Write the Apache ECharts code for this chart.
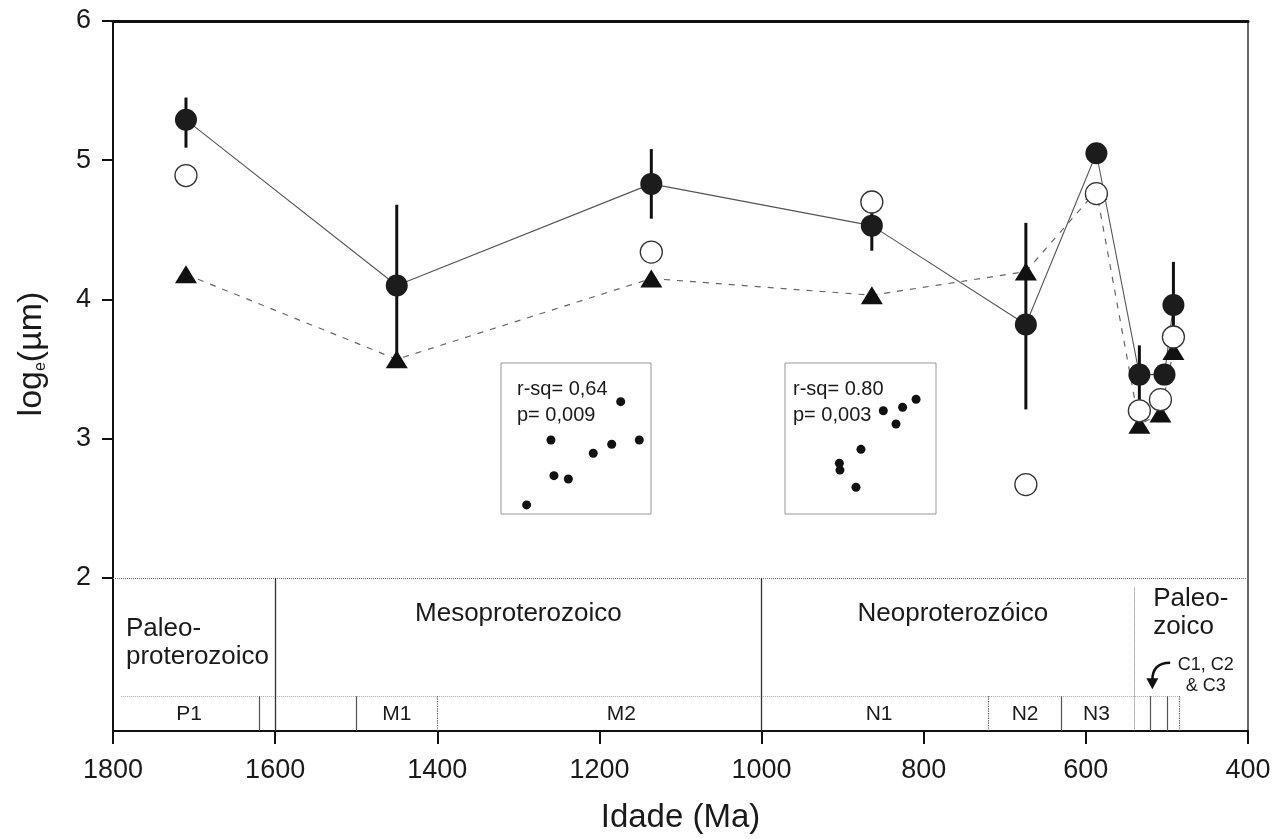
<!DOCTYPE html>
<html>
<head>
<meta charset="utf-8">
<script src="https://cdn.jsdelivr.net/npm/echarts@6/dist/echarts.min.js"></script>
<style>
  html, body { margin: 0; background: #fff; }
  #main { width: 1277px; height: 839px; }
</style>
</head>
<body>
<div id="main"></div>
<script>
// médias (círculos cheios) com barras de erro
var ages = [1710, 1450, 1136, 864, 674, 587, 534, 503, 492];
var meanVals = [5.29, 4.10, 4.83, 4.53, 3.82, 5.05, 3.46, 3.46, 3.96];
var errLow = [5.09, 3.52, 4.58, 4.35, 3.21, null, 3.25, null, 3.65];
var errHigh = [5.45, 4.68, 5.08, 4.71, 4.55, null, 3.67, null, 4.27];
// círculos abertos
var openAges = [1710, 1136, 864, 674, 587, 534, 508, 492];
var openVals = [4.89, 4.34, 4.70, 2.67, 4.76, 3.20, 3.28, 3.73];
// triângulos (linha tracejada)
var triAges = [1710, 1450, 1136, 864, 674, 587, 534, 508, 492];
var triVals = [4.18, 3.57, 4.15, 4.03, 4.20, 4.78, 3.10, 3.18, 3.63];
// eixo y
var yTicks = [2, 3, 4, 5, 6];
// escala do tempo geológico
var eraBounds = [1600, 1000];
var paleozoicBound = 540;
var subBounds = [1620, 1500, 1400, 720, 630, 520, 500, 485];
var eraNames = ['Paleo-\nproterozoico', 'Mesoproterozoico', 'Neoproterozóico', 'Paleo-\nzoico'];
var eraLabelAges = [1784, 1300, 764, 517];
var subNames = ['P1', 'M1', 'M2', 'N1', 'N2', 'N3'];
var subLabelAges = [1706, 1450, 1173, 855, 675, 587];
// gráficos inseridos
var insetA_x = [79.8, 33.3, 92.2, 73.8, 61.5, 35.3, 44.9, 17.1];
var insetA_y = [74.4, 49.0, 49.0, 46.2, 40.2, 25.4, 23.2, 6.0];
var insetB_x = [65.1, 77.9, 86.8, 73.5, 50.3, 36.0, 36.4, 47.0];
var insetB_y = [68.4, 70.7, 76.0, 59.6, 42.8, 33.6, 29.1, 17.7];
var insetA_text = 'r-sq= 0,64\np= 0,009';
var insetB_text = 'r-sq= 0.80\np= 0,003';

var FONT = '"Liberation Sans", Arial, sans-serif';
var INK = '#1a1a1a';
var yMin = 0.9, subTop = 1.15;

function pairs(xs, ys) {
  var out = [];
  for (var i = 0; i < xs.length; i++) out.push([xs[i], ys[i]]);
  return out;
}

var errData = [];
for (var i = 0; i < ages.length; i++) {
  if (errLow[i] != null) errData.push([ages[i], errLow[i], errHigh[i]]);
}

// linhas da escala de tempo
var subStyle = ['solid', 'solid', 'dotted', 'dotted', 'solid', 'solid', 'solid', 'dotted'];
var scaleLines = [
  [{ coord: [1800, 2], lineStyle: { type: 'dotted', color: '#777', width: 1 } }, { coord: [400, 2] }],
  [{ coord: [1790, subTop], lineStyle: { type: 'dotted', color: '#aaa', width: 1 } }, { coord: [485, subTop] }],
  [{ coord: [paleozoicBound, 1.93], lineStyle: { type: 'dotted', color: '#777', width: 1 } }, { coord: [paleozoicBound, yMin] }]
];
eraBounds.forEach(function (a) {
  scaleLines.push([{ coord: [a, 2], lineStyle: { type: 'solid', color: '#333', width: 1.3 } }, { coord: [a, yMin] }]);
});
subBounds.forEach(function (a, k) {
  scaleLines.push([{ coord: [a, subTop], lineStyle: { type: subStyle[k], color: '#555', width: 1.2 } }, { coord: [a, yMin] }]);
});

var labelData = [];
eraNames.forEach(function (n, k) {
  var left = n.indexOf('\n') >= 0;
  labelData.push({
    value: [eraLabelAges[k], left ? (k === 0 ? 1.53 : 1.75) : 1.74],
    name: n,
    label: { position: left ? 'right' : 'inside', distance: 0, fontSize: 26, lineHeight: 28 }
  });
});
subNames.forEach(function (n, k) {
  labelData.push({ value: [subLabelAges[k], 1.02], name: n, label: { position: 'inside', fontSize: 21 } });
});
labelData.push({ value: [452, 1.30], name: 'C1, C2\n& C3', label: { position: 'inside', fontSize: 18, lineHeight: 21 } });

var hiddenAxis = function (grid) {
  return { type: 'value', gridIndex: grid, min: 0, max: 100, show: false };
};

var myChart = echarts.init(document.getElementById('main'));
myChart.setOption({
  animation: false,
  textStyle: { fontFamily: FONT },
  title: [
    { text: insetA_text, left: 512, top: 371, textStyle: { fontFamily: FONT, fontSize: 20, fontWeight: 'normal', color: INK, lineHeight: 26 } },
    { text: insetB_text, left: 788, top: 371, textStyle: { fontFamily: FONT, fontSize: 20, fontWeight: 'normal', color: INK, lineHeight: 26 } }
  ],
  grid: [
    { left: 113, right: 29, top: 21, bottom: 106 },
    { left: 501, top: 363, width: 150, height: 151, show: true, borderColor: '#999', borderWidth: 1 },
    { left: 785, top: 363, width: 151, height: 151, show: true, borderColor: '#999', borderWidth: 1 }
  ],
  xAxis: [
    {
      type: 'value', gridIndex: 0, min: 400, max: 1800, interval: 200, inverse: true,
      name: 'Idade (Ma)', nameLocation: 'middle', nameGap: 70,
      nameTextStyle: { fontSize: 33, color: INK, fontFamily: FONT },
      axisLine: { lineStyle: { color: '#111', width: 2 } },
      axisTick: { length: 13, lineStyle: { color: '#111', width: 2 } },
      axisLabel: { fontSize: 27, color: INK, margin: 26, fontFamily: FONT, formatter: function (v) { return String(v); } },
      splitLine: { show: false }
    },
    {
      type: 'value', gridIndex: 0, min: 400, max: 1800, inverse: true, position: 'top',
      axisLine: { show: true, lineStyle: { color: '#111', width: 3 } },
      axisTick: { show: false }, axisLabel: { show: false }, splitLine: { show: false }
    },
    hiddenAxis(1),
    hiddenAxis(2)
  ],
  yAxis: [
    {
      type: 'value', gridIndex: 0, min: yMin, max: 6,
      name: 'log{e|e}(µm)', nameLocation: 'middle', nameGap: 64,
      nameTextStyle: {
        fontSize: 34, color: INK, fontFamily: FONT, padding: [0, 0, 0, 44],
        rich: { e: { fontSize: 16, verticalAlign: 'bottom', color: INK, fontFamily: FONT } }
      },
      axisLine: { lineStyle: { color: '#111', width: 2 } },
      axisTick: { length: 11, customValues: yTicks, lineStyle: { color: '#111', width: 2 } },
      axisLabel: { fontSize: 27, color: INK, margin: 22, customValues: yTicks, fontFamily: FONT },
      splitLine: { show: false }
    },
    {
      type: 'value', gridIndex: 0, min: yMin, max: 6, position: 'right',
      axisLine: { show: true, lineStyle: { color: '#333', width: 1.5 } },
      axisTick: { show: false }, axisLabel: { show: false }, splitLine: { show: false }
    },
    hiddenAxis(1),
    hiddenAxis(2)
  ],
  series: [
    {
      name: 'escala', type: 'scatter', xAxisIndex: 0, yAxisIndex: 0, z: 1,
      symbolSize: 0, silent: true,
      data: labelData,
      itemStyle: { opacity: 1 },
      label: { show: true, formatter: '{b}', color: INK, fontFamily: FONT },
      markLine: { silent: true, symbol: ['none', 'none'], label: { show: false }, data: scaleLines }
    },
    {
      // seta curva que aponta para C1, C2 & C3
      name: 'seta', type: 'custom', xAxisIndex: 0, yAxisIndex: 0, z: 1, silent: true,
      data: [[496, 1.39, 518, 1.20]],
      renderItem: function (params, api) {
        var a = api.coord([api.value(0), api.value(1)]);
        var b = api.coord([api.value(2), api.value(3)]);
        return {
          type: 'group',
          children: [
            {
              type: 'bezierCurve',
              shape: { x1: a[0], y1: a[1], x2: b[0], y2: b[1] - 9, cpx1: b[0], cpy1: a[1] },
              style: { stroke: '#111', lineWidth: 2.5, fill: null }
            },
            {
              type: 'polygon',
              shape: { points: [[b[0] - 6, b[1] - 11], [b[0] + 6, b[1] - 11], [b[0], b[1]]] },
              style: { fill: '#111' }
            }
          ]
        };
      }
    },
    {
      name: 'média-linha', type: 'line', xAxisIndex: 0, yAxisIndex: 0, z: 2,
      data: pairs(ages, meanVals), showSymbol: false, symbol: 'none',
      lineStyle: { color: '#555', width: 1.1 }
    },
    {
      name: 'erro', type: 'custom', xAxisIndex: 0, yAxisIndex: 0, z: 3,
      data: errData,
      renderItem: function (params, api) {
        var p1 = api.coord([api.value(0), api.value(1)]);
        var p2 = api.coord([api.value(0), api.value(2)]);
        return {
          type: 'line',
          shape: { x1: p1[0], y1: p1[1], x2: p2[0], y2: p2[1] },
          style: { stroke: '#111', lineWidth: 3 }
        };
      }
    },
    {
      name: 'triângulos', type: 'line', xAxisIndex: 0, yAxisIndex: 0, z: 4,
      data: pairs(triAges, triVals),
      symbol: 'triangle', symbolSize: [22, 18],
      itemStyle: { color: '#111' },
      lineStyle: { color: '#666', width: 1.2, type: [6, 7] }
    },
    {
      name: 'abertos', type: 'scatter', xAxisIndex: 0, yAxisIndex: 0, z: 5,
      data: pairs(openAges, openVals),
      symbol: 'circle', symbolSize: 22,
      itemStyle: { color: '#fff', borderColor: '#333', borderWidth: 1.3, opacity: 1 }
    },
    {
      name: 'médias', type: 'scatter', xAxisIndex: 0, yAxisIndex: 0, z: 6,
      data: pairs(ages, meanVals),
      symbol: 'circle', symbolSize: 22,
      itemStyle: { color: '#1c1c1c', opacity: 1 }
    },
    {
      name: 'insetA', type: 'scatter', xAxisIndex: 2, yAxisIndex: 2,
      data: pairs(insetA_x, insetA_y), symbolSize: 9, itemStyle: { color: '#111', opacity: 1 }
    },
    {
      name: 'insetB', type: 'scatter', xAxisIndex: 3, yAxisIndex: 3,
      data: pairs(insetB_x, insetB_y), symbolSize: 9, itemStyle: { color: '#111', opacity: 1 }
    }
  ]
});
</script>
</body>
</html>
